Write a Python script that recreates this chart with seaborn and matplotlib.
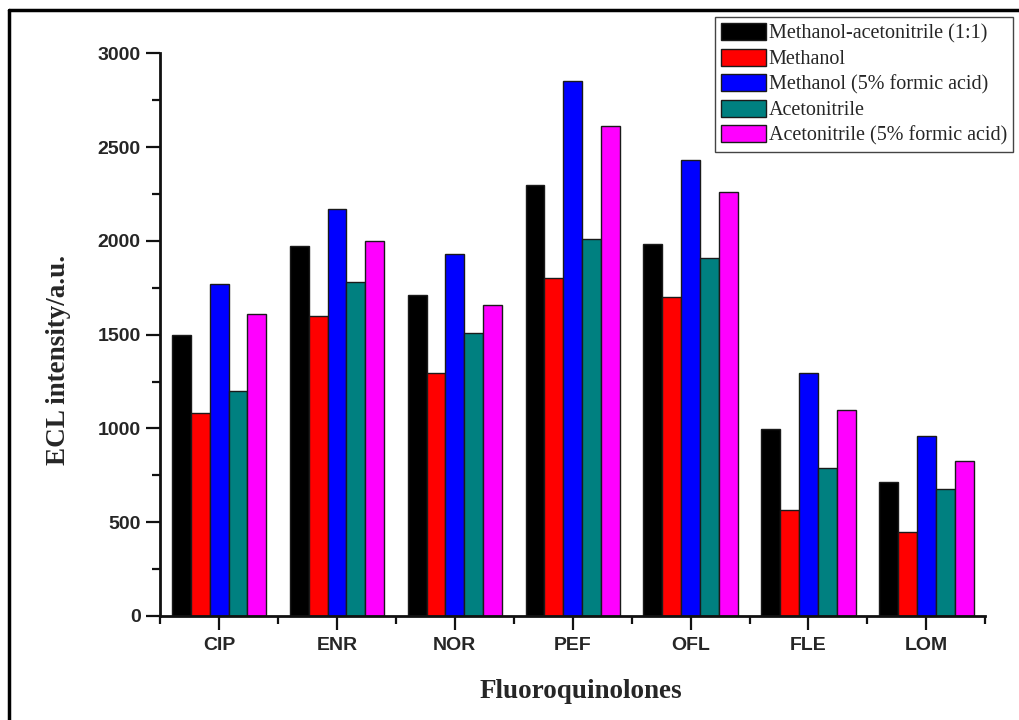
import matplotlib
matplotlib.use("Agg")
import matplotlib.pyplot as plt
from matplotlib.lines import Line2D
from matplotlib.ticker import MultipleLocator, FixedLocator
import seaborn as sns
import pandas as pd

# Fluoroquinolones and extraction solvents
drugs = ["CIP", "ENR", "NOR", "PEF", "OFL", "FLE", "LOM"]
solvents = [
    "Methanol-acetonitrile (1:1)",
    "Methanol",
    "Methanol (5% formic acid)",
    "Acetonitrile",
    "Acetonitrile (5% formic acid)",
]
meoh_acn = [1500, 1970, 1712, 2300, 1985, 998, 715]
meoh = [1080, 1598, 1298, 1800, 1700, 565, 445]
meoh_fa = [1768, 2170, 1930, 2850, 2432, 1298, 957]
acn = [1200, 1778, 1510, 2010, 1910, 787, 675]
acn_fa = [1608, 2000, 1658, 2613, 2258, 1100, 827]
colors = ["#000000", "#FF0000", "#0000FF", "#008080", "#FF00FF"]

series = [meoh_acn, meoh, meoh_fa, acn, acn_fa]
rows = []
for solvent, vals in zip(solvents, series):
    for drug, v in zip(drugs, vals):
        rows.append({"drug": drug, "solvent": solvent, "value": v})
df = pd.DataFrame(rows)

sns.set_style("ticks")
fig = plt.figure(figsize=(10.2, 7.2), dpi=100)
ax = fig.add_axes([0.157, 0.1445, 0.809, 0.7815])

sns.barplot(
    data=df, x="drug", y="value", hue="solvent",
    order=drugs, hue_order=solvents, palette=colors,
    saturation=1, width=0.8, edgecolor="#1a1a1a", linewidth=1.0,
    errorbar=None, ax=ax,
)

ax.set_xlim(-0.5, len(drugs) - 0.5)
ax.set_ylim(0, 3000)
ax.yaxis.set_major_locator(MultipleLocator(500))
ax.yaxis.set_minor_locator(MultipleLocator(250))
ax.xaxis.set_minor_locator(FixedLocator([i - 0.5 for i in range(len(drugs) + 1)]))

for side in ["top", "right"]:
    ax.spines[side].set_visible(False)
for side in ["left", "bottom"]:
    ax.spines[side].set_linewidth(2.0)
    ax.spines[side].set_color("#111111")

ax.tick_params(axis="both", which="major", direction="out", length=10, width=1.6,
               color="#111111")
ax.tick_params(axis="both", which="minor", direction="out", length=6, width=1.6,
               color="#111111")
ax.tick_params(axis="y", which="major", pad=4)
ax.tick_params(axis="x", which="major", pad=5)

tick_font = {"family": "Liberation Sans", "weight": "bold", "size": 14}
ax.set_xticks(range(len(drugs)))
ax.set_xticklabels(drugs, fontdict=tick_font)
ax.set_yticks([0, 500, 1000, 1500, 2000, 2500, 3000])
ax.set_yticklabels(["0", "500", "1000", "1500", "2000", "2500", "3000"], fontdict=tick_font)

label_font = {"family": "Liberation Serif", "weight": "bold", "size": 19.5}
ax.set_xlabel("Fluoroquinolones", fontdict=label_font)
ax.set_ylabel("ECL intensity/a.u.", fontdict=label_font)
ax.xaxis.set_label_coords(0.51, -0.112)
ax.yaxis.set_label_coords(-0.108, 0.455)

handles, labels = ax.get_legend_handles_labels()
if ax.legend_:
    ax.legend_.remove()
leg = fig.legend(
    handles, labels, loc="upper right", bbox_to_anchor=(0.993, 0.976),
    prop={"family": "Liberation Serif", "size": 14.5},
    frameon=True, fancybox=False, framealpha=1, edgecolor="#444444",
    handlelength=2.2, handleheight=0.9, handletextpad=0.15,
    labelspacing=0.26, borderpad=0.3, borderaxespad=0,
)
leg.get_frame().set_linewidth(1.0)

# Frame lines along the top and left edges of the figure
fig.add_artist(Line2D([0.0085, 1.0], [0.986, 0.986], transform=fig.transFigure,
                      color="black", linewidth=2.5))
fig.add_artist(Line2D([0.0085, 0.0085], [0.0, 0.986], transform=fig.transFigure,
                      color="black", linewidth=2.5))

fig.savefig("out.png", dpi=100)
